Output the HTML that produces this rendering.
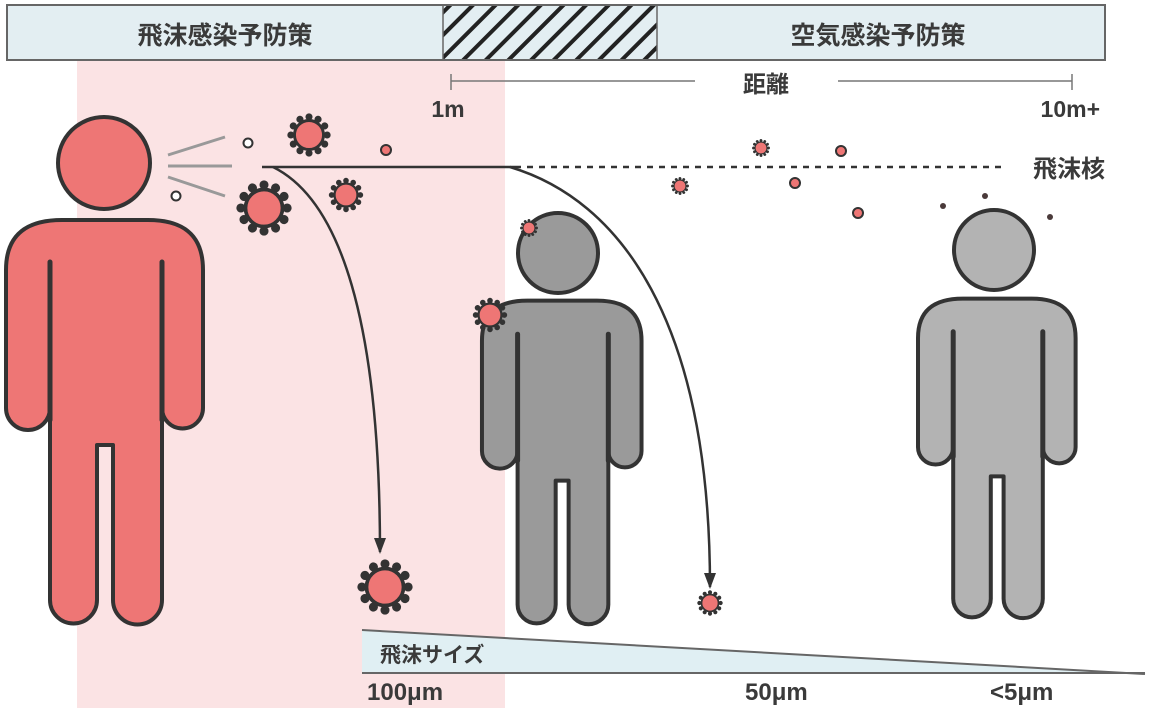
<!DOCTYPE html>
<html><head><meta charset="utf-8"><style>
html,body{margin:0;padding:0;background:#fff;}
svg{display:block;}
text{font-family:"Liberation Sans","Noto Sans CJK JP",sans-serif;fill:#3a3a3a;font-weight:bold;}
</style></head><body>
<svg width="1150" height="718" viewBox="0 0 1150 718" xmlns="http://www.w3.org/2000/svg">
<defs>
<pattern id="hatch" patternUnits="userSpaceOnUse" width="16" height="16" patternTransform="rotate(45)">
<rect width="16" height="16" fill="#e3eef2"/><rect x="0" y="0" width="4" height="16" fill="#222"/>
</pattern>
<g id="v">
<g stroke="#333" stroke-width="1.5" fill="#333">
<g id="sp"><line x1="0" y1="-10" x2="0" y2="-12"/><circle cx="0" cy="-12.5" r="1.7"/></g>
<use href="#sp" transform="rotate(30)"/><use href="#sp" transform="rotate(60)"/><use href="#sp" transform="rotate(90)"/><use href="#sp" transform="rotate(120)"/><use href="#sp" transform="rotate(150)"/><use href="#sp" transform="rotate(180)"/><use href="#sp" transform="rotate(210)"/><use href="#sp" transform="rotate(240)"/><use href="#sp" transform="rotate(270)"/><use href="#sp" transform="rotate(300)"/><use href="#sp" transform="rotate(330)"/>
</g>
<circle r="10" fill="#ee7675" stroke="#333" stroke-width="2"/>
</g>
<g id="body">
<path d="M50 600 L50 408 A22 22 0 0 1 6 408 L6 270 C6 232 30 220 62 220 L148 220 C180 220 203 232 203 270 L203 408 A20.5 20.5 0 0 1 162 408 L162 600 A24.5 24.5 0 0 1 113 600 L113 445 L97 445 L97 600 A23.5 23.5 0 0 1 50 600 Z" stroke="#333" stroke-width="4" stroke-linejoin="round" vector-effect="non-scaling-stroke"/>
<path d="M50 262 L50 420 M162 262 L162 420" stroke="#333" stroke-width="5" stroke-linecap="round" vector-effect="non-scaling-stroke" fill="none"/>
</g>
<marker id="ar" markerWidth="16" markerHeight="12" refX="14" refY="6" orient="auto" markerUnits="userSpaceOnUse" viewBox="0 0 16 12"><path d="M0 0 L16 6 L0 12 Z" fill="#333"/></marker>
</defs>

<rect x="77" y="60" width="428" height="648" fill="#fbe3e4"/>

<rect x="7" y="5" width="436" height="55" fill="#e3eef2"/>
<rect x="443" y="5" width="214" height="55" fill="url(#hatch)"/>
<rect x="657" y="5" width="448" height="55" fill="#e3eef2"/>
<rect x="7" y="5" width="1098" height="55" fill="none" stroke="#666" stroke-width="2"/>
<line x1="443" y1="5" x2="443" y2="60" stroke="#666" stroke-width="1.5"/>
<line x1="657" y1="5" x2="657" y2="60" stroke="#666" stroke-width="1.5"/>
<text x="225" y="44" font-size="25" text-anchor="middle">飛沫感染予防策</text>
<text x="878" y="44" font-size="25" text-anchor="middle">空気感染予防策</text>

<line x1="451" y1="81" x2="695" y2="81" stroke="#777" stroke-width="1.5"/>
<line x1="838" y1="81" x2="1072" y2="81" stroke="#777" stroke-width="1.5"/>
<line x1="451" y1="74" x2="451" y2="90" stroke="#777" stroke-width="1.5"/>
<line x1="1072" y1="74" x2="1072" y2="90" stroke="#777" stroke-width="1.5"/>
<text x="766" y="92" font-size="23" text-anchor="middle">距離</text>
<text x="448" y="117" font-size="23" text-anchor="middle">1m</text>
<text x="1100" y="117" font-size="23" text-anchor="end">10m+</text>

<g stroke="#999" stroke-width="3">
<line x1="168" y1="155" x2="225" y2="137"/><line x1="168" y1="166" x2="232" y2="166"/><line x1="168" y1="177" x2="225" y2="196"/>
</g>
<circle cx="248" cy="143" r="4.5" fill="#fff" stroke="#333" stroke-width="2"/>
<circle cx="176" cy="196" r="4.5" fill="#fff" stroke="#333" stroke-width="2"/>

<line x1="262" y1="167" x2="515" y2="167" stroke="#333" stroke-width="2.5"/>
<line x1="515" y1="167" x2="1005" y2="167" stroke="#333" stroke-width="2.5" stroke-dasharray="6 6"/>
<text x="1105" y="177" font-size="24" text-anchor="end">飛沫核</text>
<path d="M273 167 C340 200 380 320 380 552" stroke="#333" stroke-width="2.5" fill="none" marker-end="url(#ar)"/>
<path d="M510 167 C620 200 710 320 710 587" stroke="#333" stroke-width="2.5" fill="none" marker-end="url(#ar)"/>

<use href="#body" fill="#ee7675"/>
<circle cx="104" cy="163" r="46" fill="#ee7675" stroke="#333" stroke-width="4"/>
<use href="#body" fill="#9a9a9a" transform="translate(477.1,124.6) scale(0.81,0.8)"/>
<circle cx="558" cy="253" r="40" fill="#9a9a9a" stroke="#333" stroke-width="4"/>
<use href="#body" fill="#b3b3b3" transform="translate(913.2,124.8) scale(0.8,0.79)"/>
<circle cx="994" cy="250" r="40" fill="#b3b3b3" stroke="#333" stroke-width="4"/>

<use href="#v" transform="translate(309,135) scale(1.45)"/>
<use href="#v" transform="translate(264,208) scale(1.85)"/>
<use href="#v" transform="translate(346,195) scale(1.15)"/>
<use href="#v" transform="translate(385,587) scale(1.85)"/>
<use href="#v" transform="translate(710,603) scale(0.85)"/>
<use href="#v" transform="translate(490,315) scale(1.15)"/>
<use href="#v" transform="translate(529,228) scale(0.6)"/>
<use href="#v" transform="translate(761,148) scale(0.6)"/>
<use href="#v" transform="translate(680,186) scale(0.6)"/>
<g fill="#ee7675" stroke="#333" stroke-width="2">
<circle cx="386" cy="150" r="5"/><circle cx="795" cy="183" r="5"/><circle cx="841" cy="151" r="5"/><circle cx="858" cy="213" r="5"/>
</g>
<g fill="#4a3a3a"><circle cx="943" cy="206" r="3"/><circle cx="985" cy="196" r="3"/><circle cx="1050" cy="217" r="3"/></g>

<path d="M362 630 L1145 674 L362 674 Z" fill="#e0eff3"/>
<line x1="362" y1="630" x2="1145" y2="674" stroke="#666" stroke-width="2"/>
<line x1="362" y1="673" x2="1145" y2="673" stroke="#666" stroke-width="2"/>
<text x="380" y="662" font-size="21">飛沫サイズ</text>
<text x="367" y="700" font-size="24" font-weight="normal">100μm</text>
<text x="745" y="700" font-size="24" font-weight="normal">50μm</text>
<text x="990" y="700" font-size="24" font-weight="normal">&lt;5μm</text>
</svg>
</body></html>
